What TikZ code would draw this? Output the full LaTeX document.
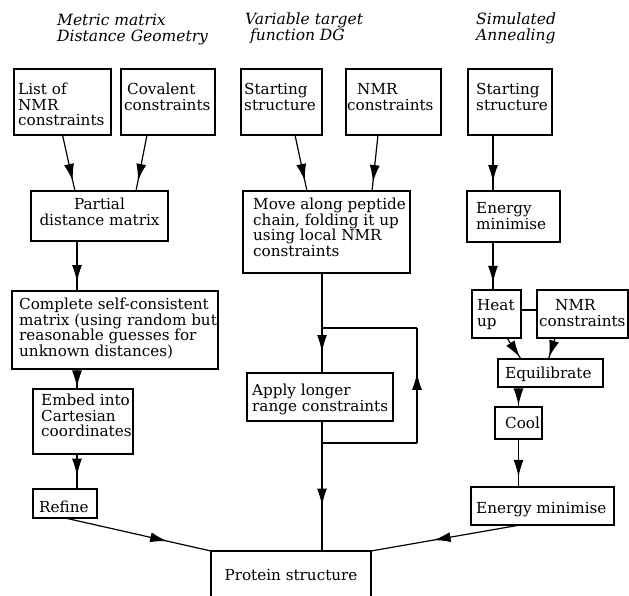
\documentclass[tikz,border=0pt]{standalone}
\usepackage{fontspec}
\setmainfont{DejaVu Serif}
\usetikzlibrary{decorations.markings,arrows.meta,calc}
\newcommand\tstr{\rule{0pt}{12pt}}
\begin{document}
\begin{tikzpicture}[x=1pt,y=-1pt,
  box/.style={draw,line width=1.4pt,inner sep=0pt,outer sep=0pt,anchor=north west},
  txt/.style={inner sep=0pt,anchor=north west,align=left,font=\fontsize{15.2}{15.8}\selectfont},
  ttl/.style={inner sep=0pt,anchor=north west,align=left,font=\fontsize{15.5}{16.5}\selectfont\itshape},
  conn/.style={line width=1.2pt},
  arrowat/.style={conn,postaction={decorate},decoration={markings,mark=at position #1 with {\arrow{Latex[length=17pt,width=10pt]}}}}
]
\useasboundingbox (0,0) rectangle (629,595);

% titles
\node[ttl] (t1) at (57,13) {\tstr Metric matrix\\Distance Geometry};
\node[ttl] (t2) at (245,12) {\tstr Variable target\\\hspace*{5pt}function DG};
\node[ttl] (t3) at (476,12) {\tstr Simulated\\Annealing};

% column 1
\node[box,minimum width=97,minimum height=66] (list) at (14,69) {};
\node[txt] (listT) at (18,82) {\tstr List of\\NMR\\constraints};
\node[box,minimum width=94,minimum height=66] (coval) at (121,69) {};
\node[txt] (covalT) at (124,82) {\tstr\hspace*{3pt}Covalent\\constraints};
\node[box,minimum width=137,minimum height=50] (part) at (31,191) {};
\node[txt,anchor=north,align=center] (partT) at (99.5,197) {\tstr Partial\\distance matrix};
\node[box,minimum width=206,minimum height=78] (compl) at (12,291) {};
\node[txt] (complT) at (19,297) {\tstr Complete self-consistent\\matrix (using random but\\reasonable guesses for\\unknown distances)};
\node[box,minimum width=100,minimum height=65] (embed) at (33,389) {};
\node[txt] (embedT) at (41,393) {\tstr Embed into\\Cartesian\\coordinates};
\node[box,minimum width=64,minimum height=29] (refine) at (33,489) {};
\node[txt,anchor=base west] (refineT) at (39,512) {Refine};

% column 2
\node[box,minimum width=81,minimum height=66] (start1) at (241,69) {};
\node[txt] (start1T) at (244,82) {\tstr Starting\\structure};
\node[box,minimum width=95,minimum height=66] (nmr1) at (346,69) {};
\node[txt] (nmr1T) at (347,82) {\tstr\hspace*{10pt}NMR\\constraints};
\node[box,minimum width=167,minimum height=82] (move) at (243,191) {};
\node[txt] (moveT) at (253,197) {\tstr Move along peptide\\chain, folding it up\\using local NMR\\constraints};
\node[box,minimum width=146,minimum height=48] (apply) at (247,373) {};
\node[txt] (applyT) at (252,383) {\tstr Apply longer\\range constraints};

% column 3
\node[box,minimum width=84,minimum height=66] (start2) at (468,69) {};
\node[txt] (start2T) at (476,82) {\tstr Starting\\structure};
\node[box,minimum width=93,minimum height=51] (energy1) at (467,191) {};
\node[txt] (energy1T) at (476,201) {\tstr Energy\\minimise};
\node[box,minimum width=49,minimum height=48] (heat) at (472,290) {};
\node[txt] (heatT) at (477,298) {\tstr Heat\\up};
\node[box,minimum width=91,minimum height=48] (nmr2) at (537,290) {};
\node[txt] (nmr2T) at (539,298) {\tstr\hspace*{16pt}NMR\\constraints};
\node[box,minimum width=105,minimum height=28] (equil) at (498,359) {};
\node[txt,anchor=base west] (equilT) at (505,378) {Equilibrate};
\node[box,minimum width=47,minimum height=32] (cool) at (495,407) {};
\node[txt,anchor=base west] (coolT) at (505,428) {Cool};
\node[box,minimum width=143,minimum height=38] (energy2) at (471,487) {};
\node[txt,anchor=base west] (energy2T) at (476,513) {Energy minimise};

% result
\node[box,minimum width=160,minimum height=60] (protein) at (211,551) {};
\node[txt,anchor=base] (proteinT) at ([yshift=-29pt]protein.north) {Protein structure};

% connectors column 1
\draw[arrowat=0.82] (list.south) -- ([xshift=-24.5pt]part.north);
\draw[arrowat=0.82] ([xshift=-21pt]coval.south) -- ([xshift=36.5pt]part.north);
\draw[arrowat=0.82] ([xshift=-22.5pt]part.south) -- ([xshift=-22.5pt]part.south |- compl.north);
\draw[arrowat=0.92] ([xshift=-6pt]embed.north |- compl.south) -- ([xshift=-6pt]embed.north);
\draw[arrowat=0.62] ([xshift=-6pt]embed.south) -- ([xshift=-6pt]embed.south |- refine.north);
\draw[arrowat=0.7] (refine.south) -- (protein.north west);

% connectors column 2
\draw[arrowat=0.82] ([xshift=13.5pt]start1.south) -- ([xshift=-19.5pt]move.north);
\draw[arrowat=0.84] ([xshift=-15.5pt]nmr1.south) -- ([xshift=45.5pt]move.north);
\coordinate (mv) at ([xshift=-4.5pt]move.south);
\coordinate (looptop) at (417,328);
\coordinate (loopbot) at (417,443);
\draw[arrowat=0.79] (mv) -- (mv |- apply.north);
\draw[conn] (mv |- looptop) -- (looptop);
\draw[arrowat=0.61] (loopbot) -- (looptop);
\draw[conn] (mv |- loopbot) -- (loopbot);
\draw[arrowat=0.65] (mv |- apply.south) -- (mv |- protein.north);

% connectors column 3
\draw[arrowat=0.84] ([xshift=-17pt]start2.south) -- ([xshift=-17pt]start2.south |- energy1.north);
\draw[arrowat=0.85] ([xshift=-3.5pt]heat.north |- energy1.south) -- ([xshift=-3.5pt]heat.north);
\draw[conn] ([yshift=4pt]heat.east) -- ([yshift=4pt]heat.east -| nmr2.west);
\draw[arrowat=0.92] ([xshift=10.5pt]heat.south) -- ([xshift=-29.5pt]equil.north);
\draw[arrowat=0.92] ([xshift=-27.5pt]nmr2.south) -- ([xshift=-2pt]equil.north);
\draw[arrowat=0.92] (cool.north |- equil.south) -- (cool.north);
\draw[arrowat=0.79] (cool.south) -- (cool.south |- energy2.north);
\draw[arrowat=0.58] ([xshift=-22.5pt]energy2.south) -- (protein.north east);
\end{tikzpicture}
\end{document}
